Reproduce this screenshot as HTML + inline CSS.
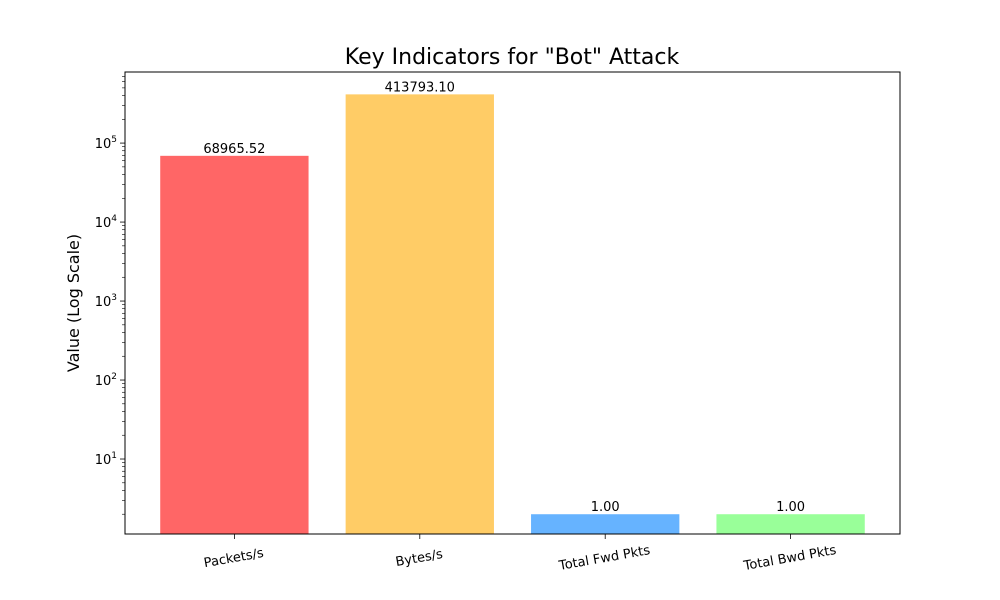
<!DOCTYPE html>
<html><head><meta charset="utf-8"><style>
body{margin:0;background:#fff}
svg{display:block;font-family:"DejaVu Sans","Liberation Sans",sans-serif}
</style></head><body>
<svg id="chart" width="1000" height="600">
<text x="512" y="64" font-size="22" text-anchor="middle">Key Indicators for "Bot" Attack</text>
<text transform="translate(79,303) rotate(-90)" font-size="16" text-anchor="middle">Value (Log Scale)</text>
<g id="plot"></g>
</svg>
<script>
const categories=["Packets/s","Bytes/s","Total Fwd Pkts","Total Bwd Pkts"];
const values=[68965.52,413793.10,1.00,1.00];
const colors=["#ff6666","#ffcc66","#66b3ff","#99ff99"];
const yTicks=[1,2,3,4,5];
const NS="http://www.w3.org/2000/svg";
const L=125,R=900,T=72,B=534;
const lmin=0.0506,lmax=5.90;
function y(v){return B-(Math.log10(v)-lmin)/(lmax-lmin)*(B-T);}
const xmin=-0.59,xmax=3.59;
function x(i){return L+(i-xmin)/(xmax-xmin)*(R-L);}
const g=document.getElementById('plot');
function mk(t,a){const e=document.createElementNS(NS,t);for(const k in a)e.setAttribute(k,a[k]);g.appendChild(e);return e;}
const bw=0.8*(R-L)/(xmax-xmin);
values.forEach((v,i)=>{
 const cx=x(i);
 const top=y(v+1);
 const r=mk('rect',{x:cx-bw/2,y:top,width:bw,height:B-top,fill:colors[i]});
 
 
 const t=mk('text',{x:cx,y:top-3,'font-size':13,'text-anchor':'middle'});
 t.textContent=v.toFixed(2);
 
 
 const xl=mk('text',{transform:`translate(${cx},${562}) rotate(-10)`,'font-size':13,'text-anchor':'middle'});
 xl.textContent=categories[i];
 
 
 const tk=mk('line',{x1:cx,x2:cx,y1:B,y2:B+5,stroke:'#000','stroke-width':0.8});
 
 
});
for(let k=0;k<=5;k++){
 for(let m=1;m<=9;m++){
  const v=m*Math.pow(10,k);const yy=y(v);
  if(yy<T||yy>B)continue;
  const tk=mk('line',{x1:L,x2:L-(m===1?5:3),y1:yy,y2:yy,stroke:'#000','stroke-width':m===1?0.8:0.6});
  
  
 }
}
yTicks.forEach(k=>{
 const t=mk('text',{x:L-8,y:y(Math.pow(10,k))+5,'font-size':13,'text-anchor':'end'});
 t.innerHTML='10<tspan dy="-6" font-size="9">'+k+'</tspan>';
 
 
});
const fr=mk('rect',{x:L,y:T,width:R-L,height:B-T,fill:'none',stroke:'#000','stroke-width':1});


</script>
</body></html>
